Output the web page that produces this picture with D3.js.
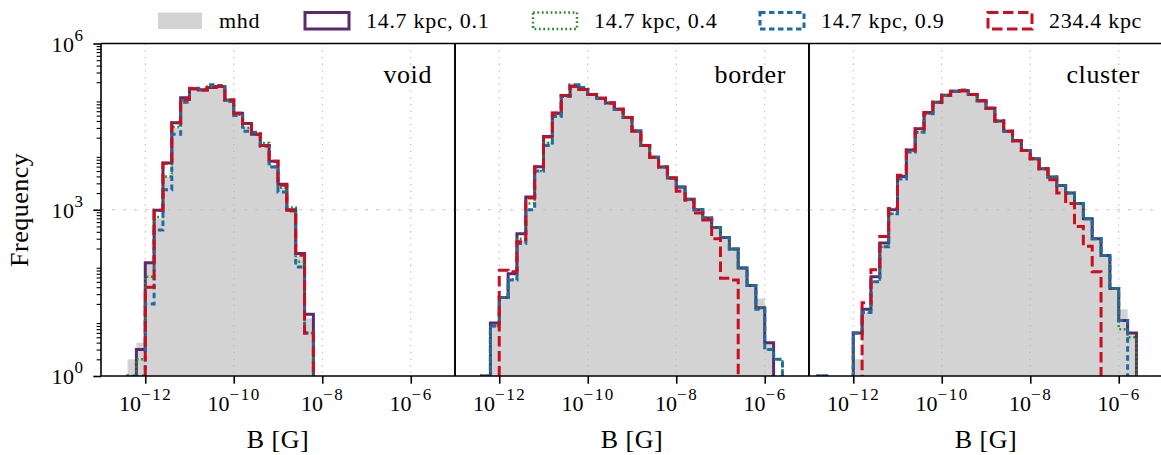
<!DOCTYPE html>
<html><head><meta charset="utf-8">
<script src="https://cdn.jsdelivr.net/npm/d3@7/dist/d3.min.js"></script>
<style>
body{margin:0;background:#fff;}
</style></head><body>
<svg id="chart" width="1161" height="455"></svg>
<script>
// ---------------- data ----------------
const binEdgeExponents = [-12.8,-12.6,-12.4,-12.2,-12.0,-11.8,-11.6,-11.4,-11.2,-11.0,-10.8,-10.6,-10.4,-10.2,-10.0,-9.8,-9.6,-9.4,-9.2,-9.0,-8.8,-8.6,-8.4,-8.2,-8.0,-7.8,-7.6,-7.4,-7.2,-7.0,-6.8,-6.6,-6.4,-6.2,-6.0,-5.8,-5.6];
const panelNames = ["void","border","cluster"];
const seriesLabels = ["mhd","14.7 kpc, 0.1","14.7 kpc, 0.4","14.7 kpc, 0.9","234.4 kpc"];
const xTickValues = [1e-12,1e-10,1e-8,1e-6];
const xTickExponents = ["\u221212","\u221210","\u22128","\u22126"];
const yTickValues = [1,1e3,1e6];
const yTickExponents = ["0","3","6"];

const voidMhd  = [0,0,2,4,105,700,4000,30000,95000,152000,148000,165000,168000,95000,53000,32000,24000,15000,6500,2500,1000,150,11,0,0,0,0,0,0,0,0,0,0,0,0,0];
const voidP01  = [0,0,0,3,110,980,7000,37000,105000,152000,145000,160000,167000,96000,55000,36000,23000,14500,7500,2900,1000,162,13,0,0,0,0,0,0,0,0,0,0,0,0,0];
const voidP04  = [0,0,1,2,62,740,4000,31000,95000,152000,148000,165000,170000,95000,52000,30000,24000,16000,6000,2500,1100,115,6,0,0,0,0,0,0,0,0,0,0,0,0,0];
const voidP09  = [0,0,1,1,20,430,2300,23000,87000,155000,150000,180000,175000,90000,50000,26000,25000,14000,5900,2100,950,93,6,0,0,0,0,0,0,0,0,0,0,0,0,0];
const voidR234 = [0,0,0,0,40,980,6900,37000,98000,152000,145000,160000,167000,96000,55000,36000,23000,14500,7500,2770,980,151,6,0,0,0,0,0,0,0,0,0,0,0,0,0];

const borderMhd  = [0,0,1,9,26,55,280,1000,5200,17000,52000,112000,172000,152000,120000,103000,84000,65000,46000,26500,14400,8900,5900,3750,2570,1550,1000,710,480,316,195,89,43,25,4,0];
const borderP01  = [0,0,1,9,26,70,370,1700,6000,21000,55000,115000,170000,148000,120000,103000,84000,65000,46000,26500,14400,8900,5900,3750,2570,1550,1000,710,480,316,195,89,43,17,4,0];
const borderP04  = [0,0,1,8,26,55,300,1300,5000,16000,50000,112000,175000,152000,120000,103000,84000,65000,46000,26500,14400,8900,5900,3750,2570,1550,1000,710,480,316,195,89,43,17,3,2];
const borderP09  = [0,0,1,8,26,54,245,1000,5000,14500,48000,110000,180000,160000,120000,103000,84000,65000,46000,26500,14400,8900,5900,3750,2570,1550,1000,710,480,316,195,89,43,16,3,2];
const borderR234 = [0,0,0,0,81,76,264,1630,5900,20500,55500,115000,170000,148000,120000,103000,84000,65000,46000,26500,14400,8900,5900,3750,2150,1480,870,650,300,58,54,0,0,0,0,0];

const clusterMhd  = [1,0,0,0,2,14,50,215,850,3700,11000,25000,54000,87000,117000,138000,143000,120000,93000,68000,40000,26000,17500,11700,8300,5500,3900,2750,2000,1290,690,300,150,38,16,6];
const clusterP01  = [1,0,0,0,6,16,62,250,1000,4000,12000,29000,57000,87000,117000,138000,141000,120000,93000,68000,40000,26000,17500,11700,8300,5500,3900,2750,2000,1290,690,300,150,38,10,6];
const clusterP04  = [1,0,0,0,6,14,50,215,850,3700,11000,25000,54000,87000,117000,138000,143000,120000,93000,68000,40000,26000,17500,11700,8300,5500,3900,2750,2000,1290,690,300,150,38,7,5];
const clusterP09  = [1,0,0,0,6,14,50,215,850,3600,11000,25000,54000,87000,117000,138000,145000,120000,93000,68000,40000,26000,17500,11700,8300,5500,3900,2750,2000,1290,690,300,150,38,10,0];
const clusterR234 = [0,0,0,0,0,21,83,330,1050,4200,12000,29000,57000,87000,117000,138000,141000,120000,93000,68000,40000,26000,17500,11700,8300,5500,3470,2000,1290,500,220,76,0,0,0,0];

const panelSeries = [
  [voidMhd, voidP01, voidP04, voidP09, voidR234],
  [borderMhd, borderP01, borderP04, borderP09, borderR234],
  [clusterMhd, clusterP01, clusterP04, clusterP09, clusterR234]
];

// ---------------- styles ----------------
const FONT = "'Liberation Serif', 'DejaVu Serif', serif";
const styles = [
  {fill:"#d3d3d3"},
  {stroke:"#5c2a6c", width:3.0, dash:null},
  {stroke:"#2a8a2a", width:2.5, dash:"1.8,2.6"},
  {stroke:"#1f6aa8", width:3.0, dash:"5.5,3.5"},
  {stroke:"#cb0d1f", width:3.0, dash:"10.5,4.5"}
];

const svg = d3.select("#chart");
const plotTop = 43.5, plotBottom = 376, panelW = 354, left0 = 101;
const edges = binEdgeExponents.map(e => Math.pow(10, e));
const y = d3.scaleLog().domain([1, 1e6]).range([plotBottom, plotTop]);
const defs = svg.append("defs");

function txt(sel) { return sel.append("text").style("font-family", FONT).style("fill", "#000"); }

panelNames.forEach((name, p) => {
  const L = left0 + p * panelW, R = L + panelW;
  const x = d3.scaleLog().domain([1e-13, 1e-5]).range([L, R]);
  defs.append("clipPath").attr("id", "clip" + p)
    .append("rect").attr("x", L).attr("y", plotTop).attr("width", panelW).attr("height", plotBottom - plotTop);
  const g = svg.append("g");
  const plot = g.append("g").attr("clip-path", `url(#clip${p})`);
  const floorY = plotBottom + 40;
  const stepPts = vals => {
    const yOf = v => v > 0 ? y(v) : floorY;
    const pts = [[x(edges[0]), floorY]];
    vals.forEach((v, i) => { pts.push([x(edges[i]), yOf(v)]); pts.push([x(edges[i + 1]), yOf(v)]); });
    pts.push([x(edges[edges.length - 1]), floorY]);
    return pts;
  };
  const line = d3.line();
  const series = panelSeries[p];
  plot.append("path").attr("d", line(stepPts(series[0])) + "Z")
    .attr("fill", styles[0].fill).attr("stroke", "none");
  xTickValues.forEach(v => {
    plot.append("line").attr("x1", x(v)).attr("x2", x(v)).attr("y1", plotTop).attr("y2", plotBottom)
      .attr("stroke", "#b8b8b8").attr("stroke-width", 1.1).attr("stroke-dasharray", "1.3,5.4");
  });
  plot.append("line").attr("x1", L).attr("x2", R).attr("y1", y(1e3)).attr("y2", y(1e3))
    .attr("stroke", "#c4c4c4").attr("stroke-width", 1.1).attr("stroke-dasharray", "3.3,7.7");
  for (let s = 1; s < 5; s++) {
    const st = styles[s];
    const path = plot.append("path").attr("d", line(stepPts(series[s])))
      .attr("fill", "none").attr("stroke", st.stroke).attr("stroke-width", st.width)
      .attr("stroke-linejoin", "miter");
    if (st.dash) path.attr("stroke-dasharray", st.dash);
  }
  const gx = g.append("g").attr("transform", `translate(0,${plotBottom})`)
    .call(d3.axisBottom(x).tickValues(xTickValues).tickSize(7.7).tickFormat(""));
  gx.select(".domain").remove();
  gx.selectAll(".tick line").attr("stroke", "#000").attr("stroke-width", 1.6);
  gx.selectAll(".tick text").remove();
  gx.selectAll(".tick").each(function(d, i) {
    const t = txt(d3.select(this)).attr("text-anchor", "middle")
      .attr("y", 34.7).style("font-size", "22px");
    t.append("tspan").text("10");
    t.append("tspan").attr("dy", -10.7).style("font-size", "17px").style("letter-spacing", "1.6px").text(xTickExponents[i]);
  });
  txt(g).attr("x", (L + R) / 2).attr("y", 447.5).attr("text-anchor", "middle")
    .style("font-size", "26px").style("letter-spacing", "0.5px").text("B [G]");
  txt(g).attr("x", R - 23).attr("y", 82.5).attr("text-anchor", "end")
    .style("font-size", "26px").style("letter-spacing", "0.6px").text(name);
  if (p === 0) {
    const minorVals = [];
    for (let n = 0; n < 6; n++) for (let k = 2; k < 10; k++) minorVals.push(k * Math.pow(10, n));
    const gyMinor = g.append("g").attr("transform", `translate(${L},0)`)
      .call(d3.axisLeft(y).tickValues(minorVals).tickSize(4.4).tickFormat(""));
    gyMinor.select(".domain").remove();
    gyMinor.selectAll(".tick line").attr("stroke", "#000").attr("stroke-width", 1.1);
    gyMinor.selectAll(".tick text").remove();
    const gy = g.append("g").attr("transform", `translate(${L},0)`)
      .call(d3.axisLeft(y).tickValues(yTickValues).tickSize(7.7).tickFormat(""));
    gy.select(".domain").remove();
    gy.selectAll(".tick line").attr("stroke", "#000").attr("stroke-width", 1.6);
    gy.selectAll(".tick text").remove();
    gy.selectAll(".tick").each(function(d, i) {
      const t = txt(d3.select(this)).attr("text-anchor", "end")
        .attr("x", -17.7).attr("y", 7.5).style("font-size", "22px").style("letter-spacing", "0.4px");
      t.append("tspan").text("10");
      t.append("tspan").attr("dy", -10.7).style("font-size", "17px").text(yTickExponents[i]);
    });
  }
  const sp = g.append("g").attr("stroke", "#000").attr("stroke-width", 1.6);
  sp.append("line").attr("x1", L).attr("x2", R).attr("y1", plotTop).attr("y2", plotTop);
  sp.append("line").attr("x1", L).attr("x2", R).attr("y1", plotBottom).attr("y2", plotBottom);
  sp.append("line").attr("x1", L).attr("x2", L).attr("y1", plotTop).attr("y2", plotBottom);
  sp.append("line").attr("x1", R).attr("x2", R).attr("y1", plotTop).attr("y2", plotBottom);
});

txt(svg).attr("transform", `translate(28,${(plotTop + plotBottom) / 2}) rotate(-90)`)
  .attr("text-anchor", "middle").style("font-size", "26px").style("letter-spacing", "0.5px").text("Frequency");

const legendX = [158, 305, 533, 760, 988];
const lg = svg.append("g");
seriesLabels.forEach((lab, i) => {
  const st = styles[i];
  const r = lg.append("rect").attr("x", legendX[i]).attr("y", 12.5).attr("width", 44).attr("height", 16.5);
  if (i === 0) r.attr("fill", st.fill);
  else {
    r.attr("fill", "none").attr("stroke", st.stroke).attr("stroke-width", st.width);
    if (st.dash) r.attr("stroke-dasharray", st.dash);
  }
  txt(lg).attr("x", legendX[i] + 61).attr("y", 28.3).style("font-size", "22px")
    .style("letter-spacing", "0.7px").text(lab);
});
</script>
</body></html>
